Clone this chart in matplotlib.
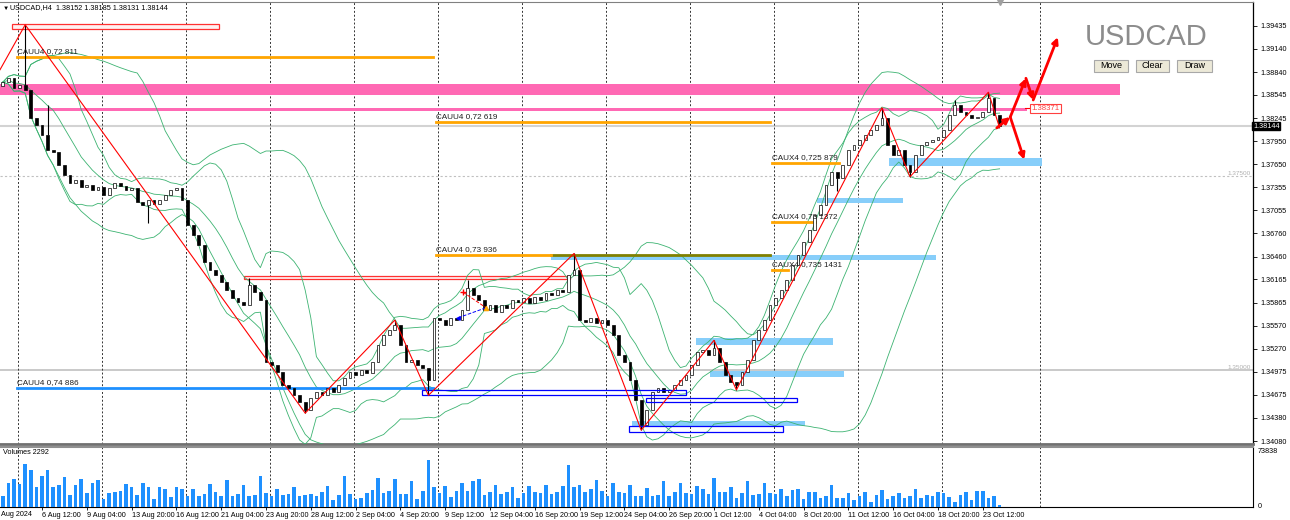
import numpy as np
import pandas as pd
import matplotlib
matplotlib.use("Agg")
import matplotlib.pyplot as plt
from matplotlib.patches import Rectangle
from matplotlib.transforms import blended_transform_factory

plt.rcParams['font.family'] = ['Liberation Sans', 'DejaVu Sans']

# USDCAD, one candle = 8 hours (two H4 bars)
first_open = 1.3866
closes = [
    1.3871, 1.3876, 1.3863, 1.3867, 1.3861, 1.3825, 1.3816, 1.3803, 1.3784, 1.3781,
    1.3764, 1.3751, 1.3741, 1.3745, 1.3736, 1.3738, 1.3732, 1.3736, 1.3725, 1.3734,
    1.3741, 1.3737, 1.3732, 1.3734, 1.3716, 1.3713, 1.3719, 1.3714, 1.3719, 1.3725,
    1.3732, 1.3734, 1.3719, 1.3687, 1.3674, 1.3661, 1.3639, 1.3629, 1.3622, 1.3613,
    1.3603, 1.3593, 1.3587, 1.3584, 1.3609, 1.3600, 1.3590, 1.3510, 1.3506, 1.3497,
    1.3480, 1.3476, 1.3467, 1.3458, 1.3448, 1.3464, 1.3471, 1.3467, 1.3476, 1.3471,
    1.3480, 1.3489, 1.3497, 1.3493, 1.3500, 1.3496, 1.3510, 1.3532, 1.3545, 1.3551,
    1.3558, 1.3532, 1.3510, 1.3513, 1.3506, 1.3502, 1.3487, 1.3567, 1.3564, 1.3558,
    1.3567, 1.3564, 1.3577, 1.3605, 1.3596, 1.3590, 1.3577, 1.3584, 1.3575, 1.3584,
    1.3580, 1.3590, 1.3587, 1.3593, 1.3586, 1.3594, 1.3590, 1.3599, 1.3596, 1.3603,
    1.3600, 1.3622, 1.3629, 1.3564, 1.3562, 1.3567, 1.3560, 1.3564, 1.3558, 1.3545,
    1.3519, 1.3510, 1.3487, 1.3461, 1.3429, 1.3448, 1.3471, 1.3476, 1.3471, 1.3474,
    1.3480, 1.3487, 1.3493, 1.3506, 1.3523, 1.3526, 1.3519, 1.3528, 1.3510, 1.3493,
    1.3484, 1.3480, 1.3497, 1.3513, 1.3538, 1.3551, 1.3564, 1.3584, 1.3593, 1.3603,
    1.3616, 1.3635, 1.3648, 1.3665, 1.3680, 1.3700, 1.3713, 1.3738, 1.3755, 1.3747,
    1.3764, 1.3784, 1.3790, 1.3796, 1.3803, 1.3809, 1.3816, 1.3825, 1.3790, 1.3777,
    1.3784, 1.3764, 1.3755, 1.3777, 1.3790, 1.3794, 1.3796, 1.3800, 1.3809, 1.3829,
    1.3842, 1.3833, 1.3829, 1.3825, 1.3826, 1.3833, 1.3851, 1.3829, 1.3814,
]
wick_high_idx = [4, 8, 44, 70, 83, 102, 127, 157, 170, 176]
wick_high_val = [1.3945, 1.3842, 1.3618, 1.3564, 1.3616, 1.3650, 1.3538, 1.3838, 1.3848, 1.3858]
wick_low_idx = [26, 54, 76, 114, 131, 149, 162]
wick_low_val = [1.3689, 1.3444, 1.3467, 1.3422, 1.3474, 1.3730, 1.3749]

volumes_k = [
    13, 29, 35, 28, 53, 45, 25, 38, 45, 25, 27, 37, 15, 27, 35, 17, 30, 33, 10, 17,
    18, 20, 28, 25, 15, 30, 25, 10, 25, 22, 12, 25, 22, 14, 22, 13, 16, 28, 18, 14,
    33, 14, 16, 27, 14, 15, 38, 17, 14, 22, 15, 16, 24, 14, 15, 16, 14, 18, 26, 9,
    15, 38, 16, 10, 11, 17, 21, 36, 17, 20, 35, 16, 16, 32, 10, 20, 58, 24, 17, 26,
    12, 20, 30, 20, 32, 35, 15, 18, 27, 16, 18, 25, 11, 17, 26, 18, 17, 27, 16, 18,
    26, 52, 24, 27, 18, 22, 33, 20, 14, 30, 18, 17, 27, 14, 13, 23, 13, 15, 32, 14,
    18, 30, 17, 16, 26, 22, 16, 36, 18, 18, 25, 11, 17, 32, 15, 16, 30, 17, 16, 22,
    13, 21, 22, 10, 18, 18, 11, 14, 27, 11, 11, 17, 9, 14, 19, 6, 15, 21, 10, 14,
    17, 11, 14, 22, 11, 15, 14, 18, 17, 12, 6, 15, 19, 9, 20, 20, 11, 13, 2,
]

price_ticks = [1.39435, 1.39140, 1.38840, 1.38545, 1.38245, 1.37950, 1.37650, 1.37355,
               1.37055, 1.36760, 1.36460, 1.36165, 1.35865, 1.35570, 1.35270, 1.34975,
               1.34675, 1.34380, 1.34080]
time_labels = ["6 Aug 12:00", "9 Aug 04:00", "13 Aug 20:00", "16 Aug 12:00", "21 Aug 04:00",
               "23 Aug 20:00", "28 Aug 12:00", "2 Sep 04:00", "4 Sep 20:00", "9 Sep 12:00",
               "12 Sep 04:00", "16 Sep 20:00", "19 Sep 12:00", "24 Sep 04:00", "26 Sep 20:00",
               "1 Oct 12:00", "4 Oct 04:00", "8 Oct 20:00", "11 Oct 12:00", "16 Oct 04:00",
               "18 Oct 20:00", "23 Oct 12:00"]
time_label_pos = [7 + 8 * k for k in range(len(time_labels))]
week_grid = [2.7 + 15 * k for k in range(12)] + [185.2]

# zigzag indicator vertices (bar, price)
zz_bar = [-0.5, 4, 54, 70, 76, 102, 114, 127, 131, 157, 162, 176, 178]
zz_price = [1.3887, 1.3945, 1.3444, 1.3564, 1.3467, 1.3650, 1.3422, 1.3538, 1.3474,
            1.3838, 1.3749, 1.3858, 1.3812]

# option levels: (label, start bar, end bar, price, colour)
level_names = ["CAUU4 0,72 811", "CAUU4 0,72 619", "CAUV4 0,73 936", "CAUX4 0,725 879",
               "CAUX4 0,73 1372", "CAUX4 0,735 1431", "CAUU4 0,74 886"]
level_start = [2.5, 77.4, 77.4, 137.4, 137.4, 137.4, 2.5]
level_end = [76.8, 137.0, 97.9, 149.3, 145.0, 140.2, 76.8]
level_price = [1.3903, 1.3820, 1.3648, 1.3767, 1.3691, 1.3629, 1.3476]
level_color = ["#FFA500"] * 6 + ["#1E90FF"]

# zones: (start bar, end bar, low, high)
pink_zones = [(-0.5, 199.5, 1.3854, 1.3869), (5.6, 182.9, 1.3834, 1.3838)]
blue_zones = [(97.9, 166.6, 1.3642, 1.3648), (123.8, 148.3, 1.3532, 1.3541),
              (126.3, 150.2, 1.3491, 1.3498), (112.4, 143.3, 1.3427, 1.3434),
              (145.4, 160.8, 1.3715, 1.3722), (158.3, 185.6, 1.3763, 1.3773)]
red_boxes = [(1.6, 38.6, 1.3940, 1.3946), (43.1, 101.3, 1.3617, 1.3621)]
navy_boxes = [(74.9, 122.0, 1.3467, 1.3474), (114.9, 141.8, 1.3458, 1.3464),
              (111.8, 139.3, 1.3420, 1.3427)]

# projected path (hand drawn arrows)
proj_bar = [177.5, 179.9, 182.7, 184.0, 188.4, 182.4]
proj_price = [1.3812, 1.3826, 1.3876, 1.3848, 1.3929, 1.3771]
proj_links = [(0, 1), (1, 2), (2, 3), (3, 4), (1, 5)]

last_price = 1.38144
W, H = 1290, 520

fig = plt.figure(figsize=(W / 100, H / 100), dpi=100)
ax = fig.add_axes([0, 76 / H, 1253 / W, 442 / H])
axv = fig.add_axes([0, 13 / H, 1253 / W, 60 / H])
xlim = (-0.5, 223.25)

# --- price panel ---
n = len(closes)
idx = np.arange(n)
opens = [first_open] + closes[:-1]
for i in range(n):
    o, c = opens[i], closes[i]
    lo, hi = min(o, c), max(o, c)
    if i in wick_high_idx:
        ax.vlines(i, hi, wick_high_val[wick_high_idx.index(i)], color="black", lw=0.8, zorder=4)
    if i in wick_low_idx:
        ax.vlines(i, wick_low_val[wick_low_idx.index(i)], lo, color="black", lw=0.8, zorder=4)
    bull = c >= o
    ax.bar(i, max(hi - lo, 0.00006), bottom=lo, width=0.5,
           color="white" if bull else "black", edgecolor="black", linewidth=0.5, zorder=5)

# bollinger bands
s = pd.Series(closes)
for period, show_mid in [(10, True), (25, False)]:
    mid = s.rolling(period, min_periods=1).mean()
    sd = s.rolling(period, min_periods=1).std(ddof=0)
    ax.plot(idx, mid + 2 * sd, color="#3CB371", lw=0.6, zorder=3)
    ax.plot(idx, mid - 2 * sd, color="#3CB371", lw=0.6, zorder=3)
    if show_mid:
        ax.plot(idx, mid, color="#3CB371", lw=0.6, zorder=3)

for x0, x1, lo, hi in pink_zones:
    ax.add_patch(Rectangle((x0, lo), x1 - x0, hi - lo, color="#FF69B4", lw=0, zorder=2))
for x0, x1, lo, hi in blue_zones:
    ax.add_patch(Rectangle((x0, lo), x1 - x0, hi - lo, color="#87CEFA", lw=0, zorder=2))
for x0, x1, lo, hi in red_boxes:
    ax.add_patch(Rectangle((x0, lo), x1 - x0, hi - lo, facecolor="#FFF0F0",
                           edgecolor="#FF3030", lw=0.9, zorder=2))
for x0, x1, lo, hi in navy_boxes:
    ax.add_patch(Rectangle((x0, lo), x1 - x0, hi - lo, facecolor="none",
                           edgecolor="#0000FF", lw=0.9, zorder=6))

ax.plot([137.0, 97.9], [1.3648, 1.3648], color="#808000", lw=2, zorder=3)
for name, x0, x1, p, col in zip(level_names, level_start, level_end, level_price, level_color):
    ax.plot([x0, x1], [p, p], color=col, lw=2, zorder=3)
    ax.annotate(name, (x0, p), xytext=(0, 1.5), textcoords="offset points",
                fontsize=5.9, color="#202020", va="bottom", ha="left", zorder=7)

ax.axhline(last_price, color="#D3D3D3", lw=1.5, zorder=1)
ax.axhline(1.35, color="#C0C0C0", lw=1.2, zorder=1)
ax.axhline(1.375, color="#C0C0C0", lw=0.8, ls=(0, (2, 2)), zorder=1)
tr = blended_transform_factory(ax.transAxes, ax.transData)
for lvl in [1.375, 1.35]:
    ax.text(0.998, lvl, f"{lvl:.5f}", transform=tr, ha="right", va="bottom",
            fontsize=4.6, color="#B0B0B0")

ax.plot(zz_bar, zz_price, color="#FF0000", lw=0.8, zorder=6)

# little fib/trend markers
ax.plot([82.2, 86.3], [1.3600, 1.3580], color="red", lw=0.7, ls="--", zorder=6)
ax.plot([81.3, 86.3], [1.3567, 1.3580], color="blue", lw=0.7, ls="--", zorder=6)
ax.plot([82.2], [1.3600], marker="+", color="red", ms=4, zorder=7)
ax.plot([81.3], [1.3567], marker="<", color="blue", ms=2.5, zorder=7)
ax.plot([86.3], [1.3580], marker="^", color="orange", ms=3, zorder=7)

for a, b in proj_links:
    ax.annotate("", xy=(proj_bar[b], proj_price[b]), xytext=(proj_bar[a], proj_price[a]),
                arrowprops=dict(arrowstyle="-|>", color="red", lw=2, mutation_scale=9,
                                shrinkA=0, shrinkB=0), zorder=8)
ax.plot([182.6, 183.6], [1.38371, 1.38371], color="red", lw=0.8, zorder=8)
ax.text(183.7, 1.38371, "1.38371", fontsize=5.6, color="#FF4040", va="center", ha="left",
        bbox=dict(boxstyle="square,pad=0.15", facecolor="white", edgecolor="#FF4040", lw=0.8),
        zorder=9)

for g in week_grid:
    ax.axvline(g, color="#333333", lw=0.7, ls=(0, (2, 2)), zorder=1)
    axv.axvline(g, color="#333333", lw=0.7, ls=(0, (2, 2)), zorder=1)

ax.set_xlim(*xlim)
ax.set_ylim(1.34042, 1.39744)
ax.set_xticks([])
ax.yaxis.tick_right()
ax.set_yticks(price_ticks)
ax.set_yticklabels([f"{v:.5f}" for v in price_ticks])
ax.tick_params(axis="y", labelsize=5.2, length=3, pad=2, width=0.6)
ax.spines["left"].set_visible(False)
ax.spines["top"].set_color("#808080")
ax.spines["bottom"].set_color("#707070")
ax.spines["bottom"].set_linewidth(2)
ax.spines["right"].set_linewidth(0.9)
ax.text(1.0, last_price, "1.38144", transform=tr, fontsize=5.2, color="white", va="center",
        ha="left", bbox=dict(boxstyle="square,pad=0.12", facecolor="black", edgecolor="black"),
        zorder=10, clip_on=False)
ax.plot([178.1], [1.39744], marker="v", color="#A0A0A0", ms=4, clip_on=False, zorder=10)

# --- volume panel ---
axv.bar(idx, np.array(volumes_k) * 1000, width=0.62, color="#1E90FF", zorder=3)
axv.set_xlim(*xlim)
axv.set_ylim(0, 73838)
axv.set_yticks([])
axv.set_xticks(time_label_pos)
axv.set_xticklabels(time_labels, ha="left")
axv.tick_params(axis="x", labelsize=5.2, length=2, pad=1.5, width=0.6)
axv.spines["left"].set_visible(False)
axv.spines["top"].set_color("#909090")
axv.spines["top"].set_linewidth(1.5)
axv.text(0.002, 0.97, "Volumes 2292", transform=axv.transAxes, fontsize=5.2, va="top")
axv.text(1.004, 0.99, "73838", transform=axv.transAxes, fontsize=5.2, va="top")
axv.text(1.004, 0.0, "0", transform=axv.transAxes, fontsize=5.2, va="center")
trv = blended_transform_factory(axv.transData, axv.transAxes)
# first date label is cut by the window edge in the terminal, only "Aug 2024" shows
axv.text(-0.4, -0.06, "Aug 2024", transform=trv, fontsize=5.2, va="top", ha="left",
         clip_on=False)

# --- header, title and buttons ---
fig.text(3 / W, 1 - 8 / H, "\u25bc", fontsize=4.5, va="center")
fig.text(10 / W, 1 - 8 / H, "USDCAD,H4  1.38152 1.38185 1.38131 1.38144", fontsize=5.2,
         va="center")
fig.text(1085 / W, 1 - 37 / H, "USDCAD", fontsize=21, color="#8C8C8C", va="center")
for name, x0, x1 in [("Move", 1094, 1128), ("Clear", 1136, 1169), ("Draw", 1177, 1212)]:
    fig.add_artist(Rectangle((x0 / W, 1 - 72 / H), (x1 - x0) / W, 12 / H,
                             transform=fig.transFigure, facecolor="#ECE9D8",
                             edgecolor="#A8A8A8", lw=0.8))
    fig.text((x0 + x1) / 2 / W, 1 - 66 / H, name, fontsize=6.5, ha="center", va="center")

fig.savefig("out.png", dpi=100, facecolor="white")
